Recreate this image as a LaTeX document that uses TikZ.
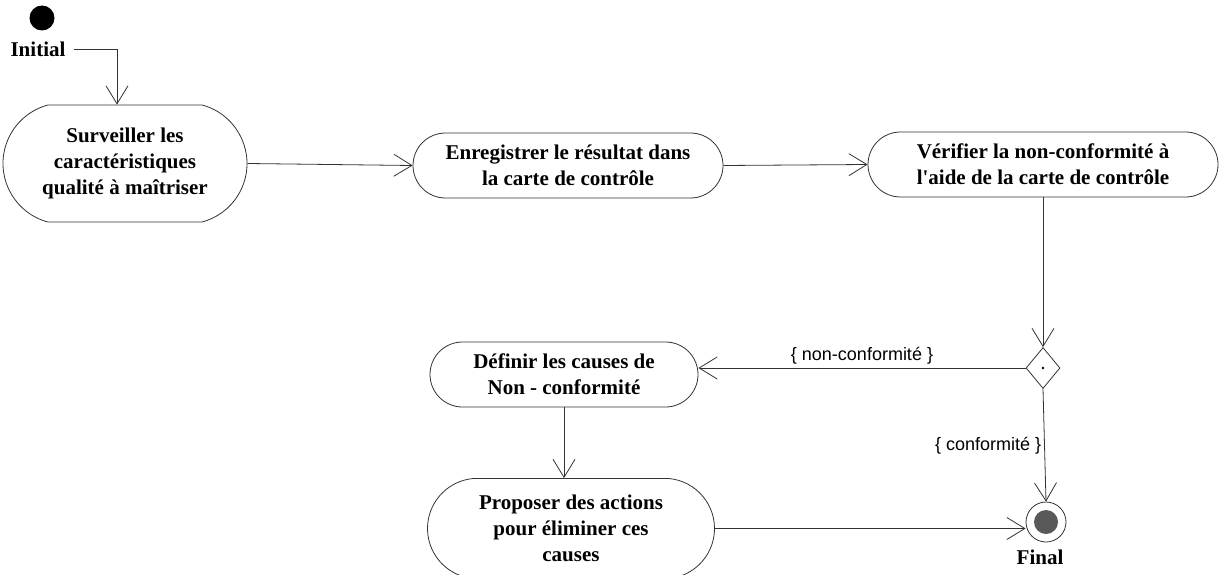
\documentclass[tikz,border=0pt]{standalone}
\usepackage{fontspec}
\setmainfont{Liberation Serif}
\newfontfamily\guardfont{Liberation Sans}
\usetikzlibrary{shapes.misc,shapes.geometric,arrows.meta}

\tikzset{
  act/.style={draw=black!80, line width=0.8pt, rounded rectangle, align=center,
    inner sep=0pt, font=\fontsize{21}{26}\selectfont\bfseries},
  flow/.style={draw=black!80, line width=0.8pt,
    -{Straight Barb[length=18pt,width=22pt,line width=0.8pt]}},
  guard/.style={font=\guardfont\fontsize{18}{20}\selectfont, inner sep=3pt},
  caption/.style={font=\fontsize{21}{24}\selectfont\bfseries, inner sep=0pt},
}

\begin{document}
\begin{tikzpicture}[x=1pt,y=-1pt]
  \useasboundingbox (0,0) rectangle (1220,575);

  % start and end states
  \node[circle, fill=black, minimum size=25pt, inner sep=0pt] (init) at (42,18) {};
  \node[caption] (initlbl) at (38,49) {Initial};
  \node[circle, draw=black!80, line width=0.8pt, minimum size=40pt, inner sep=0pt] (fin) at (1046,522) {};
  \fill[black!65] (fin.center) circle (12pt);
  \node[caption] (finlbl) at (1040,557) {Final};

  % activities
  \node[act, minimum width=244pt, minimum height=117pt, rounded rectangle arc length=150]
    (surv) at (125,163.5) {Surveiller les\\caractéristiques\\qualité à maîtriser};
  \node[act, minimum width=310pt, minimum height=65pt]
    (enr) at (568,165.5) {Enregistrer le résultat dans\\la carte de contrôle};
  \node[act, minimum width=350pt, minimum height=65pt]
    (ver) at (1043,164.5) {Vérifier la non-conformité à\\l\textquotesingle aide de la carte de contrôle};
  \node[act, minimum width=268pt, minimum height=65pt]
    (def) at (564,374.5) {Définir les causes de\\Non - conformité};
  \node[act, minimum width=287pt, minimum height=100pt, rounded rectangle arc length=170]
    (prop) at (571,528.5) {Proposer des actions\\pour éliminer ces\\causes};

  % decision
  \node[diamond, draw=black!80, line width=0.8pt, minimum width=34pt, minimum height=41pt,
    inner sep=0pt, aspect=0.83] (dia) at (1043,368) {};
  \fill[black] (dia.center) circle (1.3pt);

  % transitions
  \draw[flow] (initlbl.east) ++(8,0) -| ([xshift=-8pt]surv.north);
  \draw[flow] (surv.east) -- (enr.west);
  \draw[flow] (enr.east) -- (ver.west);
  \draw[flow] (ver.south) -- (dia.north);
  \draw[flow] (dia.west) -- node[guard, above] {\{ non-conformité \}} (dia.west -| def.east);
  \draw[flow] (dia.south) -- node[guard, left] {\{ conformité \}} (fin.north);
  \draw[flow] (def.south) -- (def.south |- prop.north);
  \draw[flow] (prop.east) -- (prop.east -| fin.west);
\end{tikzpicture}
\end{document}
